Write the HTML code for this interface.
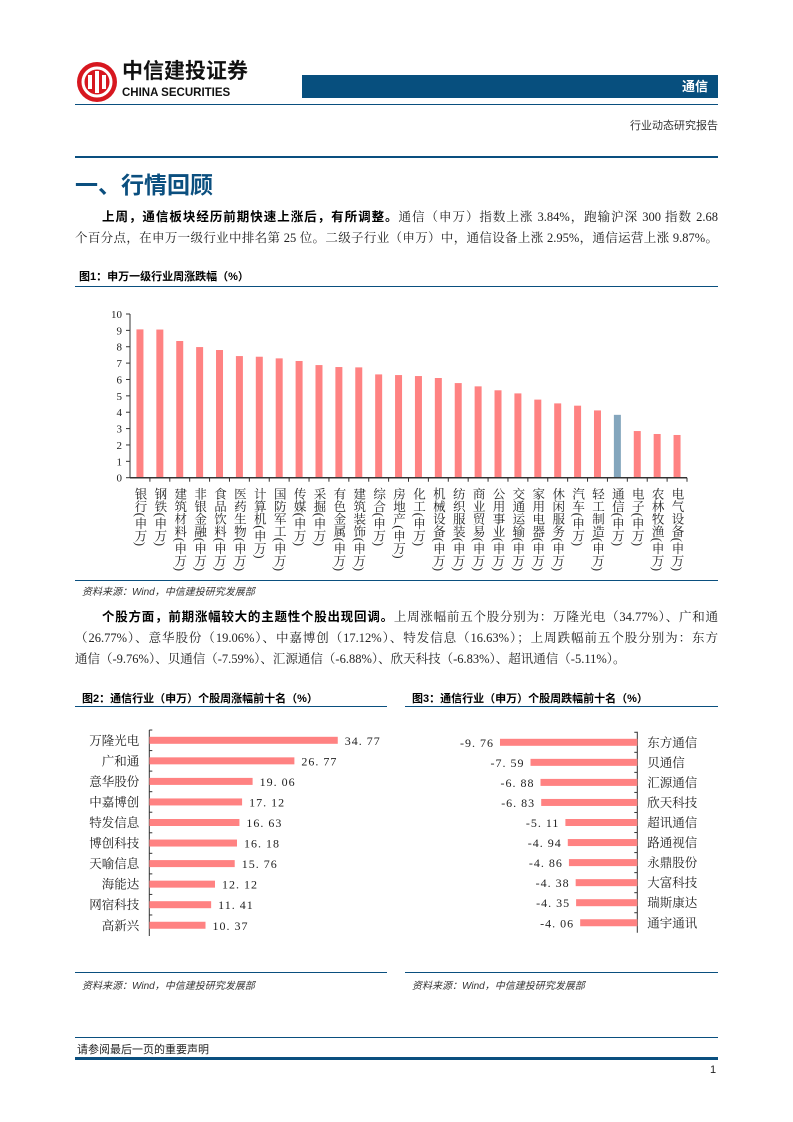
<!DOCTYPE html>
<html><head><meta charset="utf-8">
<style>
*{margin:0;padding:0;box-sizing:border-box}
body{width:793px;height:1122px;background:#fff;position:relative;overflow:hidden;font-family:"Liberation Sans","Noto Sans CJK SC",sans-serif;color:#222}
.abs{position:absolute}
.p{position:absolute;left:75px;width:643px;font-size:12.5px;line-height:21px;text-align:justify;text-align-last:justify;white-space:nowrap;font-family:"Liberation Serif","Noto Serif CJK SC",serif}
.p b{font-family:"Liberation Sans","Noto Sans CJK SC",sans-serif;font-weight:bold;color:#000}
.figt{position:absolute;font-size:11px;font-weight:bold;color:#000}
.src{position:absolute;font-size:10px;font-style:italic;color:#333}
.rule{position:absolute;height:1px;background:#0a4f7f}
svg text{font-family:"Liberation Serif","Noto Serif CJK SC",serif}
</style></head><body>
<div class="abs" style="left:76px;top:61px;width:42px;height:42px">
<svg width="42" height="42" viewBox="0 0 42 42"><circle cx="21" cy="21" r="20" fill="#d7171f"/><circle cx="21" cy="21" r="14" fill="none" stroke="#fff" stroke-width="3"/><rect x="12" y="14" width="4" height="14" fill="#fff"/><rect x="19" y="10" width="4" height="22" fill="#fff"/><rect x="26" y="14" width="4" height="14" fill="#fff"/></svg></div>
<div class="abs" style="left:122px;top:60px;font-size:21px;line-height:24px;font-weight:bold;color:#111">中信建投证券</div>
<div class="abs" style="left:122px;top:87px;font-size:11.5px;line-height:13px;font-weight:bold;color:#111">CHINA SECURITIES</div>
<div class="abs" style="left:302px;top:75px;width:416px;height:23px;background:#074f7e;color:#fff;font-weight:bold;font-size:13px;text-align:right;padding-right:10px;line-height:23px">通信</div>
<div class="rule" style="left:75px;top:104px;width:643px;height:1px"></div>
<div class="abs" style="right:75px;top:117px;font-size:11px;color:#333">行业动态研究报告</div>
<div class="rule" style="left:75px;top:156px;width:643px;height:2px"></div>
<div class="abs" style="left:75px;top:166px;font-size:23px;font-weight:bold;color:#0b4f7f">一、行情回顾</div>
<div class="p" style="top:207px;padding-left:27px"><b>上周，通信板块经历前期快速上涨后，有所调整。</b>通信（申万）指数上涨 3.84%，跑输沪深 300 指数 2.68</div>
<div class="p" style="top:228px">个百分点，在申万一级行业中排名第 25 位。二级子行业（申万）中，通信设备上涨 2.95%，通信运营上涨 9.87%。</div>
<div class="figt" style="left:79px;top:268px">图1：申万一级行业周涨跌幅（%）</div>
<div class="rule" style="left:75px;top:286px;width:643px"></div>
<svg class="abs" style="left:0;top:290px" width="793" height="290" id="c1"></svg>
<div class="rule" style="left:75px;top:580px;width:643px"></div>
<div class="src" style="left:82px;top:583px">资料来源：Wind，中信建投研究发展部</div>
<div class="p" style="top:607px;padding-left:27px"><b>个股方面，前期涨幅较大的主题性个股出现回调。</b>上周涨幅前五个股分别为：万隆光电（34.77%）、广和通</div>
<div class="p" style="top:628px">（26.77%）、意华股份（19.06%）、中嘉博创（17.12%）、特发信息（16.63%）；上周跌幅前五个股分别为：东方</div>
<div class="p" style="top:649px;text-align-last:left">通信（-9.76%）、贝通信（-7.59%）、汇源通信（-6.88%）、欣天科技（-6.83%）、超讯通信（-5.11%）。</div>
<div class="figt" style="left:82px;top:690px">图2：通信行业（申万）个股周涨幅前十名（%）</div>
<div class="rule" style="left:75px;top:706px;width:312px"></div>
<div class="figt" style="left:412px;top:690px">图3：通信行业（申万）个股周跌幅前十名（%）</div>
<div class="rule" style="left:405px;top:706px;width:313px"></div>
<svg class="abs" style="left:0;top:720px" width="793" height="230" id="c2"></svg>
<div class="rule" style="left:75px;top:972px;width:312px"></div>
<div class="src" style="left:82px;top:977px">资料来源：Wind，中信建投研究发展部</div>
<div class="rule" style="left:405px;top:972px;width:313px"></div>
<div class="src" style="left:412px;top:977px">资料来源：Wind，中信建投研究发展部</div>
<div class="rule" style="left:75px;top:1037px;width:643px"></div>
<div class="abs" style="left:77px;top:1041px;font-size:11px;color:#222">请参阅最后一页的重要声明</div>
<div class="rule" style="left:75px;top:1057px;width:643px;height:3px"></div>
<div class="abs" style="left:710px;top:1064px;font-size:11px">1</div>
<script>
const NS='http://www.w3.org/2000/svg';
const industries=['银行','钢铁','建筑材料','非银金融','食品饮料','医药生物','计算机','国防军工','传媒','采掘','有色金属','建筑装饰','综合','房地产','化工','机械设备','纺织服装','商业贸易','公用事业','交通运输','家用电器','休闲服务','汽车','轻工制造','通信','电子','农林牧渔','电气设备'];
const industryValues=[9.06,9.05,8.35,7.98,7.8,7.43,7.39,7.29,7.13,6.88,6.76,6.74,6.31,6.27,6.21,6.09,5.78,5.58,5.34,5.15,4.77,4.54,4.4,4.11,3.84,2.85,2.67,2.61];
const yTicks=[0,1,2,3,4,5,6,7,8,9,10];
const gainers=['万隆光电','广和通','意华股份','中嘉博创','特发信息','博创科技','天喻信息','海能达','网宿科技','高新兴'];
const gainerValues=[34.77,26.77,19.06,17.12,16.63,16.18,15.76,12.12,11.41,10.37];
const losers=['东方通信','贝通信','汇源通信','欣天科技','超讯通信','路通视信','永鼎股份','大富科技','瑞斯康达','通宇通讯'];
const loserValues=[-9.76,-7.59,-6.88,-6.83,-5.11,-4.94,-4.86,-4.38,-4.35,-4.06];
function mk(p,t,a){const e=document.createElementNS(NS,t);for(const k in a)e.setAttribute(k,a[k]);p.appendChild(e);return e;}
(function(){
const s=document.getElementById('c1');const x0=130,x1=687,yb=187.7,yt=24;
const bw=(x1-x0)/industries.length;
const y=v=>yb-(v/10)*(yb-yt);
const ax=mk(s,'line',{x1:x0,y1:yt,x2:x0,y2:yb,stroke:'#333','stroke-width':1});

yTicks.forEach(t=>{mk(s,'line',{x1:x0-4,x2:x0,y1:y(t),y2:y(t),stroke:'#333'});
const tx=mk(s,'text',{x:x0-8,y:y(t)+4,'font-size':11,'text-anchor':'end',fill:'#222'});tx.textContent=t;
});
industryValues.forEach((v,i)=>{const cx=x0+(i+0.5)*bw;
const r=mk(s,'rect',{x:cx-3.5,y:y(v),width:7,height:yb-y(v),fill:industries[i]==='通信'?'#84a6bd':'#ff8282'});

mk(s,'line',{x1:x0+(i+1)*bw,x2:x0+(i+1)*bw,y1:yb,y2:yb+4,stroke:'#333'});
const t=mk(s,'text',{x:cx,y:yb+10,'font-size':12.5,fill:'#222','text-anchor':'start'});
t.setAttribute('style','writing-mode:vertical-rl');t.textContent=industries[i]+'(申万)';
});
const xa=mk(s,'line',{x1:x0,y1:yb,x2:x1,y2:yb,stroke:'#333','stroke-width':1.5});

})();
(function(){
const s=document.getElementById('c2');
const g0=149.3,gs=5.42,top=20.3,step=20.55;
mk(s,'line',{x1:g0,x2:g0,y1:10,y2:216,stroke:'#333'});
gainers.forEach((n,i)=>{const cy=top+i*step;const w=gainerValues[i]*gs;
const r=mk(s,'rect',{x:g0,y:cy-3.5,width:w,height:7,fill:'#ff8282'});

mk(s,'line',{x1:g0,x2:g0+3,y1:cy-step/2,y2:cy-step/2,stroke:'#333'});
const l=mk(s,'text',{x:g0-10,y:cy+4.5,'font-size':12.5,'text-anchor':'end',fill:'#222'});l.textContent=n;

const v=mk(s,'text',{x:g0+w+7,y:cy+4.5,'font-size':12,fill:'#222','letter-spacing':'1'});v.textContent=gainerValues[i].toFixed(2).replace('.','. ');
});
const l0=637.3,ls=14.07,ltop=22.3,lstep=20.05;
mk(s,'line',{x1:l0,x2:l0,y1:11.7,y2:212.7,stroke:'#333'});
losers.forEach((n,i)=>{const cy=ltop+i*lstep;const w=-loserValues[i]*ls;
const r=mk(s,'rect',{x:l0-w,y:cy-3.5,width:w,height:7,fill:'#ff8282'});

mk(s,'line',{x1:l0-3,x2:l0,y1:cy-lstep/2,y2:cy-lstep/2,stroke:'#333'});
const l=mk(s,'text',{x:l0+10,y:cy+4.5,'font-size':12.5,fill:'#222'});l.textContent=n;

const v=mk(s,'text',{x:l0-w-6,y:cy+4.5,'font-size':12,'text-anchor':'end',fill:'#222','letter-spacing':'1'});v.textContent=loserValues[i].toFixed(2).replace('.','. ');
});
})();
</script>
</body></html>
